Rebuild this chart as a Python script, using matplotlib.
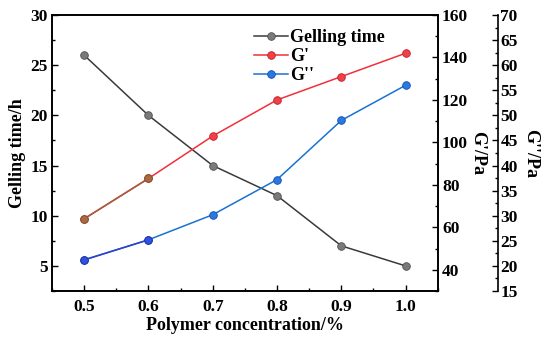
import matplotlib
matplotlib.use("Agg")
import matplotlib.pyplot as plt
from matplotlib.ticker import MultipleLocator

plt.rcParams['font.family'] = ['Liberation Serif', 'DejaVu Serif']
plt.rcParams['font.weight'] = 'bold'

conc = [0.5, 0.6, 0.7, 0.8, 0.9, 1.0]
gelling_time = [26, 20, 15, 12, 7, 5]
g_prime = [64, 83, 103, 120, 131, 142]
g_dprime = [21.2, 25.2, 30.2, 37.2, 49, 56]

fig = plt.figure(figsize=(5.5, 3.45), dpi=100)
ax = fig.add_axes([0.0945, 0.1565, 0.7015, 0.8])
ax2 = ax.twinx()
ax3 = ax.twinx()
ax3.spines['right'].set_position(('axes', 1.155))

c_gel, c_gp, c_gdp = '#3a3a3a', '#f0303a', '#1a72d0'

l1, = ax.plot(conc, gelling_time, '-', color=c_gel, lw=1.1, marker='o', ms=5.5,
              mfc='#7a7a7a', mec='#505050', mew=0.6, label='Gelling time', zorder=3)
l2, = ax2.plot(conc, g_prime, '-', color=c_gp, lw=1.1, marker='o', ms=5.5,
               mfc='#f04048', mec='#c02028', mew=0.6, label="G'", zorder=3)
ax2.plot(conc[:2], g_prime[:2], '-', color='#a06040', lw=1.1, marker='o', ms=5.5,
         mfc='#a86a40', mec='#805030', mew=0.6, zorder=4)
l3, = ax3.plot(conc, g_dprime, '-', color=c_gdp, lw=1.1, marker='o', ms=5.5,
               mfc='#2a78e0', mec='#1050b0', mew=0.6, label="G''", zorder=3)
ax3.plot(conc[:2], g_dprime[:2], '-', color='#3040c8', lw=1.1, marker='o', ms=5.5,
         mfc='#3050e0', mec='#2030a0', mew=0.6, zorder=4)

ax.set_xlim(0.45, 1.05)
ax.set_ylim(2.5, 30)
ax2.set_ylim(30, 160)
ax3.set_ylim(15, 70)

ax.xaxis.set_minor_locator(MultipleLocator(0.05))
ax.yaxis.set_minor_locator(MultipleLocator(2.5))
ax2.yaxis.set_minor_locator(MultipleLocator(10))
ax3.yaxis.set_major_locator(MultipleLocator(5))
ax3.yaxis.set_minor_locator(MultipleLocator(2.5))
ax.set_xticks([0.5, 0.6, 0.7, 0.8, 0.9, 1.0])
ax.set_xticklabels(['0.5', '0.6', '0.7', '0.8', '0.9', '1.0'])
ax.set_yticks([5, 10, 15, 20, 25, 30])
ax2.set_yticks([40, 60, 80, 100, 120, 140, 160])

for a in (ax, ax2, ax3):
    for s in a.spines.values():
        s.set_linewidth(1.2)
    a.tick_params(which='both', direction='in', width=1.0, labelsize=12.5)
    a.tick_params(which='major', length=4)
    a.tick_params(which='minor', length=2.5)
ax.tick_params(axis='x', pad=6)
ax.tick_params(axis='y', pad=3)
ax2.tick_params(axis='y', pad=3)
ax3.tick_params(axis='y', pad=2)
ax3.spines['left'].set_visible(False)
ax3.spines['top'].set_visible(False)
ax3.spines['bottom'].set_visible(False)

ax.set_xlabel('Polymer concentration/%', fontsize=13, fontweight='bold', labelpad=1)
ax.set_ylabel('Gelling time/h', fontsize=13, fontweight='bold', labelpad=3)
ax2.set_ylabel("G'/Pa", fontsize=13, fontweight='bold', rotation=-90)
ax3.set_ylabel("G''/Pa", fontsize=13, fontweight='bold', rotation=-90)
ax2.yaxis.set_label_coords(1.125, 0.5)
ax3.yaxis.set_label_coords(1.262, 0.5)

leg = ax.legend(handles=[l1, l2, l3], loc='upper left', bbox_to_anchor=(0.505, 0.975),
                frameon=False, fontsize=13, handlelength=1.9, handletextpad=0.1,
                labelspacing=0.12, borderaxespad=0)
for t in leg.get_texts():
    t.set_fontweight('bold')

fig.savefig('out.png', dpi=100)
